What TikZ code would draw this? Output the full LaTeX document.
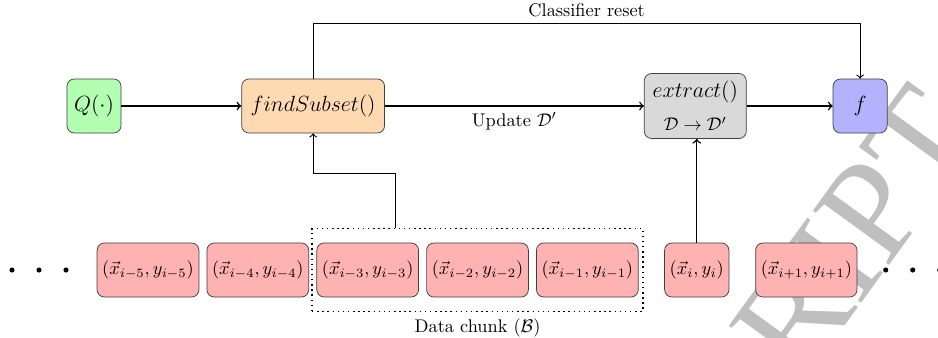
\documentclass[tikz,border=0pt]{standalone}
\usepackage{amsmath}
\usepackage{fontspec}
\newfontfamily\wmfont{Liberation Serif}
\usetikzlibrary{positioning,fit}

\tikzset{
  block/.style={draw=black!75, rounded corners=4pt, minimum width=29.5pt,
    minimum height=29.5pt, font=\large},
  sample/.style={draw=black!75, fill=red!30, rounded corners=4pt,
    minimum height=29.5pt, inner xsep=2.8pt},
  chunk/.style={draw, thick, dotted, inner xsep=2.4pt, inner ysep=7.6pt},
  flow/.style={->, thick},
  dot/.style={circle, fill=black, inner sep=0pt, minimum size=2.8pt},
  wmark/.style={font=\wmfont\fontsize{78}{78}\selectfont, text=black!25, rotate=54},
}

\begin{document}
\begin{tikzpicture}[x=0.546pt, y=-0.546pt]
  \useasboundingbox (0,0) rectangle (938,337);
  \node[wmark] (wm) at (856,232) {RIPT};

  \node[block, fill=green!30] (q) at (94,106) {$Q(\cdot)$};
  \node[block, fill=orange!30, right=65.5pt of q, minimum width=78pt] (fs) {$findSubset()$};
  \node[block, fill=gray!30, right=141.4pt of fs, align=center,
    minimum width=55.7pt, minimum height=35.5pt] (ex) {$extract()$\\[4pt] {\normalsize $\mathcal{D} \rightarrow \mathcal{D}'$}};
  \node[block, fill=blue!30, right=47pt of ex] (f) {$f$};

  % data stream
  \node[sample] (d5) at (148,270) {$(\vec{x}_{i-5}, y_{i-5})$};
  \node[sample, right=4pt of d5] (d4) {$(\vec{x}_{i-4}, y_{i-4})$};
  \node[sample, right=4pt of d4] (d3) {$(\vec{x}_{i-3}, y_{i-3})$};
  \node[sample, right=4pt of d3] (d2) {$(\vec{x}_{i-2}, y_{i-2})$};
  \node[sample, right=4pt of d2] (d1) {$(\vec{x}_{i-1}, y_{i-1})$};
  \node[sample, right=14pt of d1] (xi) {$(\vec{x}_{i}, y_{i})$};
  \node[sample, right=14.2pt of xi] (xn) {$(\vec{x}_{i+1}, y_{i+1})$};
  \foreach \k/\xx in {1/12, 2/39, 3/66}
    \node[dot] (l\k) at (\xx,270) {};
  \foreach \k/\xx in {1/885.7, 2/912.7, 3/939.7}
    \node[dot] (r\k) at (\xx,270) {};

  \node[chunk, fit=(d3)(d1)] (bt) {};
  \node[below=0pt of bt] (btl) {Data chunk ($\mathcal{B}$)};

  \draw[flow] (q) -- (fs);
  \draw[flow] (fs) -- node[below] {Update $\mathcal{D}'$} (ex);
  \draw[flow] (ex) -- (f);
  \draw[flow] (xi.north) -- (xi.north |- ex.south);
  \draw[->, semithick] (fs.north) -- ++(0,30pt) -| node[pos=0.25, above] {Classifier reset} (f.north);
  \coordinate (bttop) at ([xshift=-44.8pt]bt.north);
  \draw[->, semithick] (bttop) -- ++(0,29.5pt) -| (fs.south);
\end{tikzpicture}
\end{document}
